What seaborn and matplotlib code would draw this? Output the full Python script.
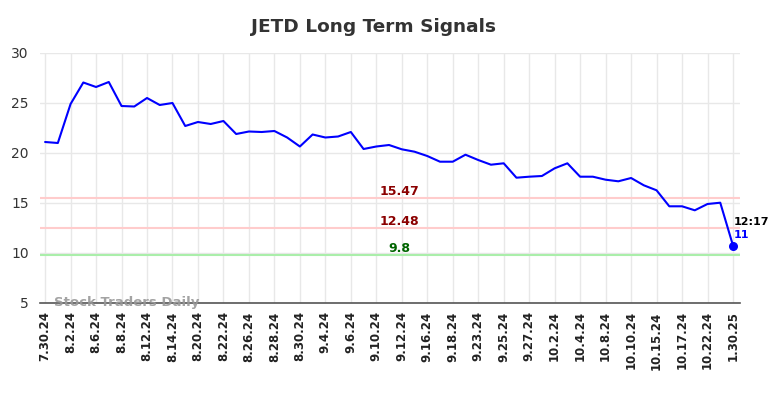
import matplotlib
matplotlib.use("Agg")
import matplotlib.pyplot as plt
import seaborn as sns
import pandas as pd
import numpy as np

values = [21.1, 21.0, 24.9, 27.05, 26.6, 27.1, 24.7, 24.65, 25.5, 24.8,
          25.0, 22.7, 23.1, 22.9, 23.2, 21.9, 22.15, 22.1, 22.2, 21.55,
          20.65, 21.85, 21.55, 21.65, 22.1, 20.4, 20.65, 20.8, 20.37, 20.13,
          19.7, 19.13, 19.13, 19.83, 19.3, 18.83, 18.97, 17.53, 17.63, 17.7,
          18.47, 18.97, 17.63, 17.63, 17.33, 17.17, 17.5, 16.77, 16.27, 14.67,
          14.67, 14.27, 14.9, 15.03, 10.75]
tick_labels = ["7.30.24", "8.2.24", "8.6.24", "8.8.24", "8.12.24", "8.14.24", "8.20.24",
               "8.22.24", "8.26.24", "8.28.24", "8.30.24", "9.4.24", "9.6.24", "9.10.24",
               "9.12.24", "9.16.24", "9.18.24", "9.23.24", "9.25.24", "9.27.24", "10.2.24",
               "10.4.24", "10.8.24", "10.10.24", "10.15.24", "10.17.24", "10.22.24", "1.30.25"]
levels = [15.47, 12.48, 9.8]
level_labels = ["15.47", "12.48", "9.8"]
level_line_colors = ["#ffcccc", "#ffcccc", "#aaeeaa"]
level_text_colors = ["#8b0000", "#8b0000", "#006400"]
last_time = "12:17"
last_label = "11"

df = pd.DataFrame({"i": np.arange(len(values)), "v": values})

sns.set_style("white")
fig = plt.figure(figsize=(7.84, 3.98), dpi=100)
ax = fig.add_axes([40/784, 1-303/398, 700/784, 250/398])

sns.lineplot(data=df, x="i", y="v", ax=ax, color="#0000ff", linewidth=1.5)

for lv, lab, lc, tc in zip(levels, level_labels, level_line_colors, level_text_colors):
    ax.axhline(lv, color=lc, linewidth=1.5, zorder=1)
    ax.text(27.8, lv + 0.05, lab, color=tc, fontsize=9, fontweight="bold",
            ha="center", va="bottom")

ax.scatter([df["i"].iloc[-1]], [df["v"].iloc[-1]], color="#0000ff", s=30, zorder=5)
ax.text(df["i"].iloc[-1] + 0.05, 12.6, last_time, color="black", fontsize=8,
        fontweight="bold", ha="left", va="bottom")
ax.text(df["i"].iloc[-1] + 0.05, 12.3, last_label, color="#0000ff", fontsize=8,
        fontweight="bold", ha="left", va="top")

ax.text(0.7, 5.05, "Stock Traders Daily", color="#999999", fontsize=9.5,
        fontweight="bold", ha="left", va="center", alpha=0.9)

ax.set_xlim(-0.4, 54.55)
ax.set_ylim(5, 30)
ax.set_yticks([5, 10, 15, 20, 25, 30])
tick_pos = list(range(0, 55, 2))
ax.set_xticks(tick_pos)
ax.set_xticklabels(tick_labels, rotation=90, fontsize=8.5, color="#222222",
                   fontweight="bold")
ax.tick_params(axis="y", labelsize=10, colors="#333333", length=0, pad=8)
ax.tick_params(axis="x", length=0, pad=6)
ax.grid(True, color="#e8e8e8", linewidth=1)
ax.set_axisbelow(True)
ax.set_xlabel("")
ax.set_ylabel("")
for s in ["top", "right", "left"]:
    ax.spines[s].set_visible(False)
ax.spines["bottom"].set_color("#555555")
ax.spines["bottom"].set_linewidth(1.2)

fig.text(374/784, 1-27/398, "JETD Long Term Signals", fontsize=13.3, fontweight="bold",
         color="#333333", ha="center", va="center")

fig.savefig("out.png", dpi=100)
